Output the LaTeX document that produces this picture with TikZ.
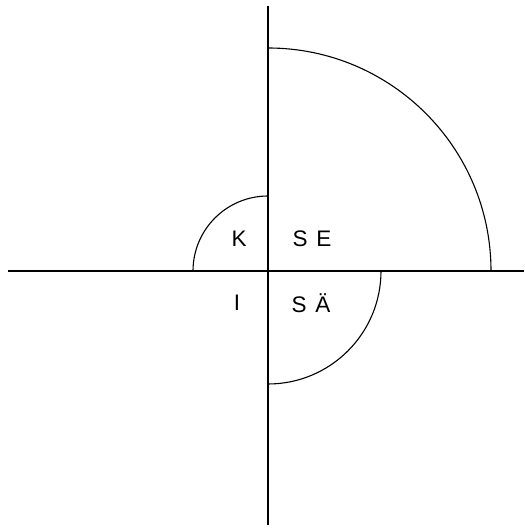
\documentclass[tikz,border=0pt]{standalone}
\usepackage{fontspec}
\setmainfont{Liberation Sans}
\begin{document}
\begin{tikzpicture}[x=1pt,y=1pt,
  axis/.style={line width=2.7pt},
  quarter/.style={line width=1.1pt},
  lbl/.style={font=\fontsize{22.5}{22.5}\selectfont, inner sep=0pt, anchor=center}]
\useasboundingbox (0,0) rectangle (524,529);
\coordinate (O) at (268,258);
\coordinate (top) at (268,523);
\coordinate (bottom) at (268,4);
\coordinate (left) at (8,258);
\coordinate (right) at (524,258);
\draw[axis] (top) -- (bottom);
\draw[axis] (left) -- (right);
\draw[quarter] (268,481) arc[start angle=90, end angle=0, radius=223];
\draw[quarter] (268,333) arc[start angle=90, end angle=180, radius=75];
\draw[quarter] (381,258) arc[start angle=0, end angle=-90, radius=113];
\node[lbl] (K) at (239,290) {K};
\node[lbl] (SE) at (312,290) {S\hspace{2.5pt} E};
\node[lbl] (I) at (237,226) {I};
\node[lbl] (SA) at (311,226) {S\hspace{2.5pt} Ä};
\end{tikzpicture}
\end{document}
